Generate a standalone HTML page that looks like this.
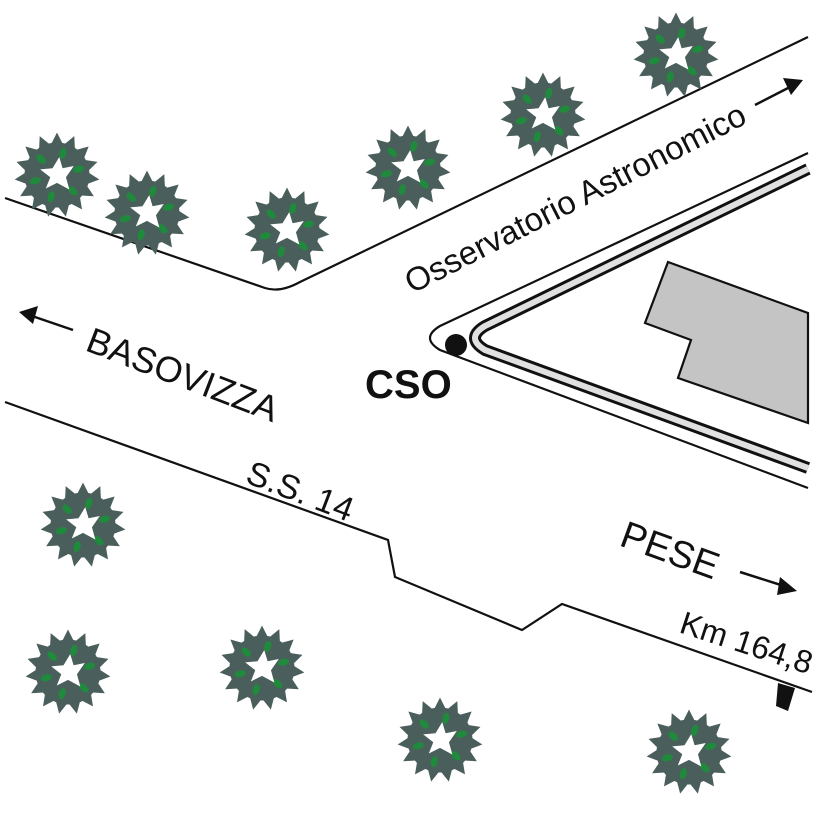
<!DOCTYPE html>
<html><head><meta charset="utf-8"><style>html,body{margin:0;padding:0;background:#fff}svg{display:block}</style></head><body>
<svg width="819" height="819" viewBox="0 0 819 819" xmlns="http://www.w3.org/2000/svg" font-family="Liberation Sans, sans-serif">
<defs>
<g id="tree" transform="scale(1.12)">
  <g fill="#4a5f5c">
    <circle r="29"/>
    <g><polygon points="0,-38 6,-26 -6,-26"/><polygon points="0,-38 6,-26 -6,-26" transform="rotate(24)"/><polygon points="0,-38 6,-26 -6,-26" transform="rotate(48)"/><polygon points="0,-38 6,-26 -6,-26" transform="rotate(72)"/><polygon points="0,-38 6,-26 -6,-26" transform="rotate(96)"/><polygon points="0,-38 6,-26 -6,-26" transform="rotate(120)"/><polygon points="0,-38 6,-26 -6,-26" transform="rotate(144)"/><polygon points="0,-38 6,-26 -6,-26" transform="rotate(168)"/><polygon points="0,-38 6,-26 -6,-26" transform="rotate(192)"/><polygon points="0,-38 6,-26 -6,-26" transform="rotate(216)"/><polygon points="0,-38 6,-26 -6,-26" transform="rotate(240)"/><polygon points="0,-38 6,-26 -6,-26" transform="rotate(264)"/><polygon points="0,-38 6,-26 -6,-26" transform="rotate(288)"/><polygon points="0,-38 6,-26 -6,-26" transform="rotate(312)"/><polygon points="0,-38 6,-26 -6,-26" transform="rotate(336)"/></g>
  </g>
  <g fill="#1f8a3c">
    <ellipse cx="0" cy="-20" rx="3" ry="5" transform="rotate(15)"/><ellipse cx="0" cy="-20" rx="3" ry="5" transform="rotate(75)"/><ellipse cx="0" cy="-20" rx="3" ry="5" transform="rotate(135)"/><ellipse cx="0" cy="-20" rx="3" ry="5" transform="rotate(195)"/><ellipse cx="0" cy="-20" rx="3" ry="5" transform="rotate(255)"/><ellipse cx="0" cy="-20" rx="3" ry="5" transform="rotate(315)"/>
  </g>
  <polygon fill="#fff" points="2,-16 5,-6 15,-8 8,2 11,13 0,7 -10,12 -6,2 -15,-5 -4,-6"/>
</g>
</defs>

<g fill="none" stroke="#111" stroke-width="2.2">
  <path d="M5,198 L265,288 Q280,293 300,282 L808,37"/>
  <path d="M5,402 L388,540 L395,577 L522,630 L562,604 L812,692"/>
  <path d="M808,153 L440,326 Q420,338 440,350 L808,488"/>
</g>
<path d="M808,169 L485,326 Q465,338 485,350 L808,468" fill="none" stroke="#111" stroke-width="12"/>
<path d="M808,169 L485,326 Q465,338 485,350 L808,468" fill="none" stroke="#e0e0e0" stroke-width="6"/>
<polygon points="668,262 808,313 808,423 678,378 691,340 645,323" fill="#c4c4c4" stroke="#111" stroke-width="2.2"/>
<circle cx="456" cy="345" r="11" fill="#111"/>
<polygon points="778,683 795,688 788,711 776,706" fill="#111"/>

<g stroke="#111" stroke-width="2.5" fill="#111">
  <line x1="755" y1="105" x2="790" y2="87"/><polygon points="803,80 783,78 791,95" stroke="none"/>
  <line x1="73" y1="330" x2="32" y2="316"/><polygon points="19,312 38,306 33,324" stroke="none"/>
  <line x1="740" y1="572" x2="784" y2="586"/><polygon points="797,591 780,577 777,595" stroke="none"/>
</g>

<g fill="#111">
  <text x="0" y="0" font-size="33" transform="translate(412,294) rotate(-27)">Osservatorio Astronomico</text>
  <text x="0" y="0" font-size="36" transform="translate(84,350) rotate(21)">BASOVIZZA</text>
  <text x="0" y="0" font-size="34" transform="translate(244,482) rotate(21)">S.S. 14</text>
  <text x="0" y="0" font-size="38" transform="translate(618,545) rotate(20)">PESE</text>
  <text x="0" y="0" font-size="32" transform="translate(678,632) rotate(18)">Km 164,8</text>
  <text x="365" y="398" font-size="40" font-weight="bold">CSO</text>
</g>

<use href="#tree" x="57" y="175"/>
<use href="#tree" x="147" y="213"/>
<use href="#tree" x="287" y="230"/>
<use href="#tree" x="408" y="168"/>
<use href="#tree" x="543" y="115"/>
<use href="#tree" x="676" y="55"/>
<use href="#tree" x="83" y="525"/>
<use href="#tree" x="68" y="672"/>
<use href="#tree" x="262" y="668"/>
<use href="#tree" x="440" y="740"/>
<use href="#tree" x="689" y="752"/>
</svg>
</body></html>
